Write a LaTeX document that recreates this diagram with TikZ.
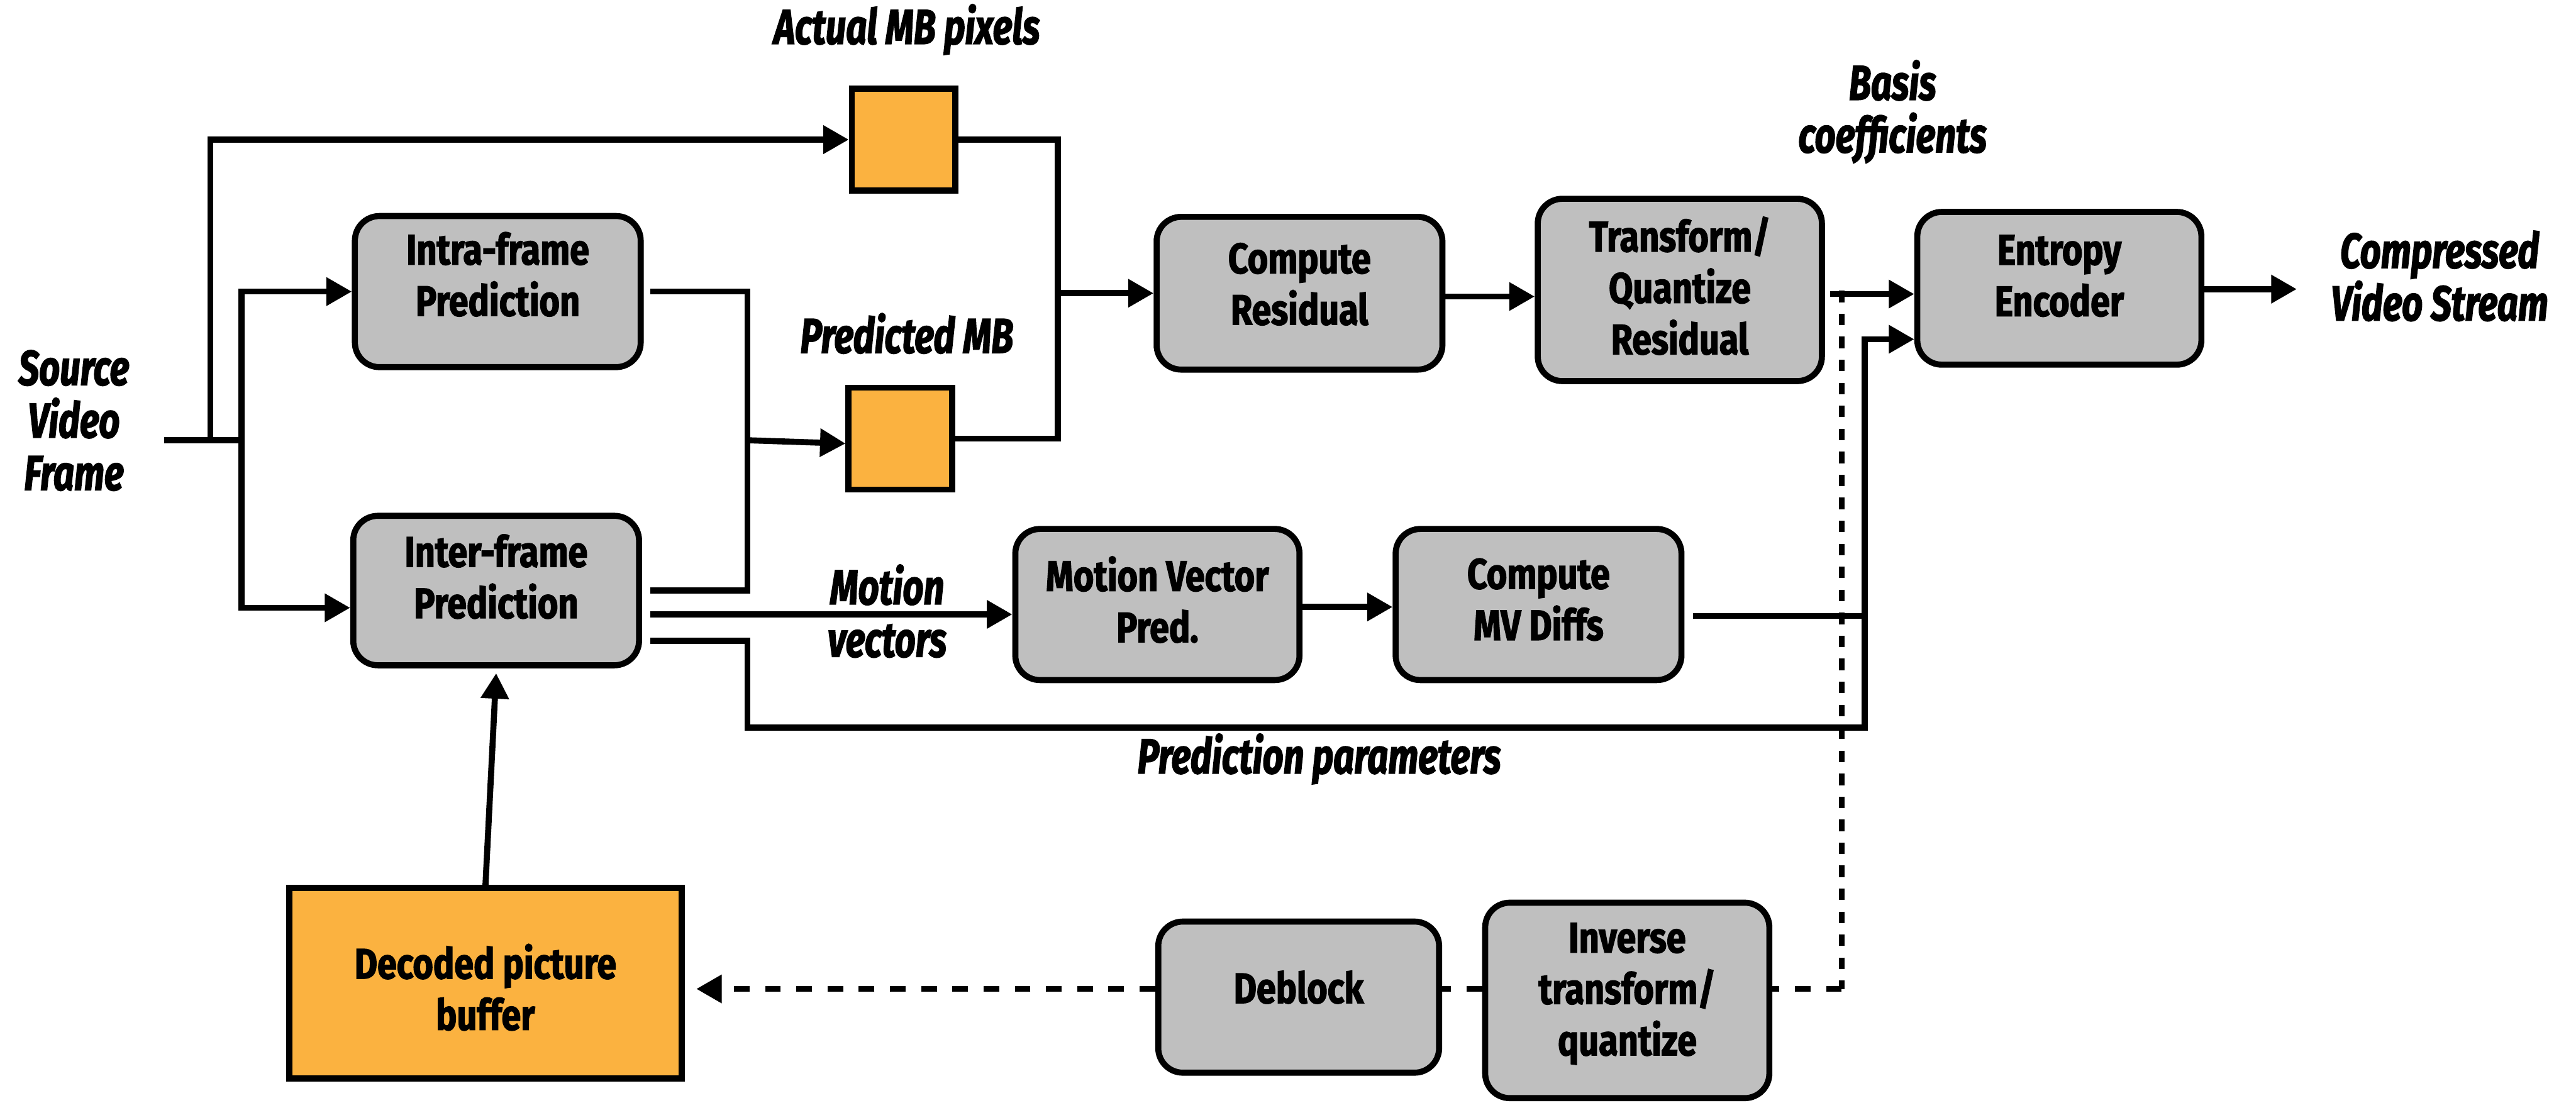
\documentclass[tikz,border=0pt]{standalone}
\usepackage{fontspec}
\setmainfont{Fira Sans}
\newfontfamily\bxff{Fira Sans}[FakeStretch=0.82,FakeBold=2]
\newfontfamily\lbff{Fira Sans}[FakeStretch=0.74,FakeBold=2]
\usetikzlibrary{arrows.meta}
\definecolor{boxgray}{RGB}{191,191,191}
\definecolor{mborange}{RGB}{251,178,64}
\newcommand{\bxfont}{\bxff\fontsize{14.8}{17.8}\selectfont\bfseries}
\newcommand{\lbfont}{\lbff\fontsize{17}{18.2}\selectfont\bfseries\itshape}
\begin{document}
\begin{tikzpicture}[x=0.02cm,y=-0.02cm,line width=2.1pt,
  blk/.style={draw,fill=boxgray,rounded corners=0.3cm,inner sep=0pt},
  sq/.style={draw,fill=mborange,inner sep=0pt},
  txt/.style={font=\bxfont,align=center,inner sep=0pt},
  lbl/.style={font=\lbfont,align=center,inner sep=0pt},
  arr/.style={-{Triangle[length=0.31cm,width=0.33cm]}},
  vdash/.style={dash pattern=on 0.14cm off 0.14cm},
  hdash/.style={dash pattern=on 0.19cm off 0.19cm}]
\useasboundingbox (0,0) rectangle (1568,671.4);

% boxes
\node[blk,minimum width=3.48cm,minimum height=1.84cm] (intra) at (303,177.5) {};
\node[blk,minimum width=3.48cm,minimum height=1.82cm] (inter) at (302,359.5) {};
\node[sq,minimum width=1.26cm,minimum height=1.24cm] (amb) at (550,85) {};
\node[sq,minimum width=1.26cm,minimum height=1.24cm] (pmb) at (548,267) {};
\node[blk,minimum width=3.48cm,minimum height=1.86cm] (res) at (791,178.5) {};
\node[blk,minimum width=3.46cm,minimum height=2.22cm] (tr) at (1022.5,176.5) {};
\node[blk,minimum width=3.46cm,minimum height=1.86cm] (ent) at (1253.5,175.5) {};
\node[blk,minimum width=3.46cm,minimum height=1.84cm] (mvp) at (704.5,368) {};
\node[blk,minimum width=3.48cm,minimum height=1.84cm] (mvd) at (936.5,368) {};
\node[blk,minimum width=3.46cm,minimum height=2.38cm] (inv) at (990.5,609) {};
\node[blk,minimum width=3.42cm,minimum height=1.84cm] (db) at (790.5,607) {};
\node[sq,minimum width=4.78cm,minimum height=2.32cm] (dpb) at (295.5,598.5) {};

% box texts
\node[txt] (intraT) at (303,167) {Intra-frame\\Prediction};
\node[txt] (interT) at (302,351) {Inter-frame\\Prediction};
\node[txt] (resT) at (791,173) {Compute\\Residual};
\node[txt] (trT) at (1022.5,174) {Transform/\\Quantize\\Residual};
\node[txt] (entT) at (1253.5,168) {Entropy\\Encoder};
\node[txt] (mvpT) at (704.5,365) {Motion Vector\\Pred.};
\node[txt] (mvdT) at (936.5,365) {Compute\\MV Diffs};
\node[txt] (dbT) at (790.5,601) {Deblock};
\node[txt] (invT) at (990.5,605) {Inverse\\transform/\\quantize};
\node[txt] (dpbT) at (295.5,601) {Decoded picture\\buffer};

% labels
\node[lbl] (actl) at (552,18) {Actual MB pixels};
\node[lbl] (predl) at (552,203) {Predicted MB};
\node[lbl] (basisl) at (1152,68) {Basis\\coefficients};
\node[lbl] (mvl) at (540,372) {Motion\\vectors};
\node[lbl] (ppl) at (803,462) {Prediction parameters};
\node[lbl] (srcl) at (45,256) {Source\\Video\\Frame};
\node[lbl] (cvsl) at (1485,168) {Compressed\\Video Stream};

% coordinates
\coordinate (src) at (100,268);
\coordinate (j1) at (128,268);
\coordinate (j2) at (147,268);
\coordinate (mj) at (455,268);
\coordinate (rj) at (644,178.5);
\coordinate (pj) at (1135,443);
\coordinate (outend) at (1398,176);
\coordinate (dtop) at (1121,177);
\coordinate (dbot) at (1121,602);

% connectors
\draw (src) -- (j2);
\draw[arr] (j1) |- (amb.west);
\draw[arr] (j2) |- (intra.west);
\draw[arr] (j2) |- (inter.west |- 0,370);
\draw ([xshift=0.08cm]intra.east) -| (mj);
\draw ([xshift=0.1cm]inter.east) -| (mj);
\draw[arr] (mj) -- (pmb.west |- 0,270);
\draw (amb.east) -| (rj);
\draw (pmb.east) -| (rj);
\draw[arr] (rj) -- (res.west |- rj);
\draw[arr] (res.east |- 0,180.5) -- (tr.west |- 0,180.5);
\draw[arr] ([xshift=0.06cm]tr.east |- 0,179) -- (ent.west |- 0,179);
\draw[arr] (ent.east |- outend) -- (outend);
\draw[arr] ([xshift=0.1cm]inter.east |- 0,374) -- (mvp.west |- 0,374);
\draw[arr] (mvp.east |- 0,369.5) -- (mvd.west |- 0,369.5);
\draw ([xshift=0.1cm]mvd.east |- 0,375) -- (pj |- 0,375);
\draw[arr] ([xshift=0.1cm]inter.east |- 0,390) -| (455,443) -- (pj) |- (ent.west |- 0,206.5);
\draw[arr] (dpb.north) -- ([yshift=-0.06cm]inter.south);

% dashed feedback
\draw[vdash] (dtop) -- (dbot);
\draw[hdash] (dbot) -- (inv.east |- dbot);
\draw[hdash] (inv.west |- dbot) -- (db.east |- dbot);
\draw[hdash,arr] (db.west |- dbot) -- ([xshift=0.14cm]dpb.east |- dbot);
\end{tikzpicture}
\end{document}
